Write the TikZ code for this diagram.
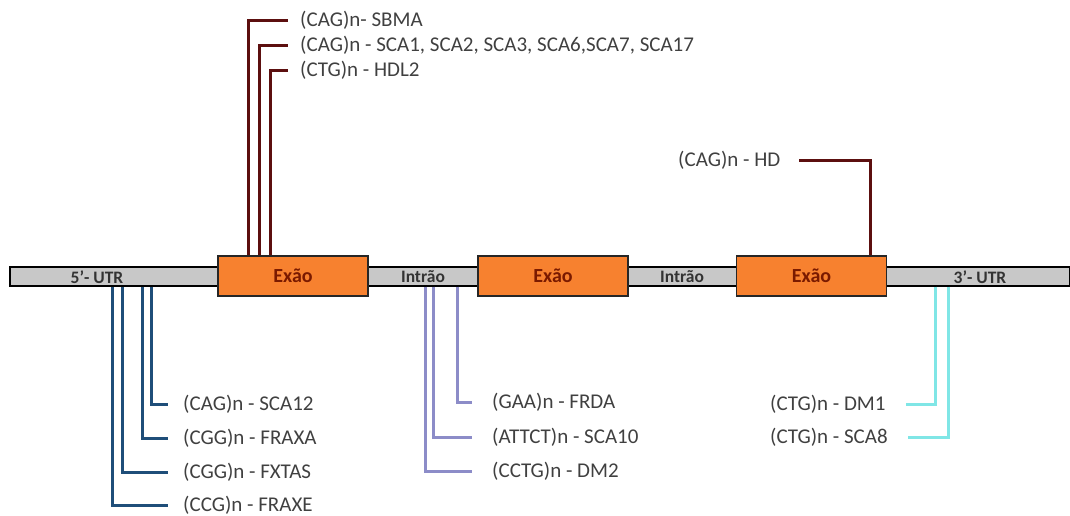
\documentclass[tikz,border=0pt]{standalone}
\usepackage{fontspec}
\setmainfont{Carlito}
\definecolor{exorange}{HTML}{F7812F}
\definecolor{exred}{HTML}{7A1A00}
\definecolor{barg}{HTML}{C8C8C8}
\definecolor{maroon}{HTML}{5C0F0F}
\definecolor{navy}{HTML}{1F4E79}
\definecolor{lav}{HTML}{8C8CC8}
\definecolor{cyanl}{HTML}{80E6E6}
\begin{document}
\begin{tikzpicture}[x=1pt,y=-1pt,
  lbl/.style={inner sep=0pt, anchor=west, text=black!75, font=\fontsize{21}{23}\selectfont},
  barlbl/.style={inner sep=0pt, text=black!80, font=\bfseries\fontsize{17.5}{19}\selectfont},
  exonbox/.style={draw=black!85, fill=exorange, minimum width=150pt, minimum height=40pt, line width=1.2pt, inner sep=0pt, text=exred, font=\bfseries\fontsize{20}{22}\selectfont},
  barbox/.style={draw=black, fill=barg, minimum width=1060pt, minimum height=19pt, line width=1.2pt, inner sep=0pt},
  conn/.style={line width=3pt},
  topc/.style={conn, draw=maroon},
  navyc/.style={conn, draw=navy},
  lavc/.style={conn, draw=lav},
  cyanc/.style={conn, draw=cyanl}]
\useasboundingbox (0,0) rectangle (1070,515);
% bar and exons
\node[barbox] (bar) at (540,276.5) {};
\node[exonbox] (ex1) at (293,276) {Exão};
\node[exonbox] (ex2) at (553,276) {Exão};
\node[exonbox] (ex3) at (811.5,276) {Exão};
\node[barlbl] (utr5) at (97,277) {5'- UTR};
\node[barlbl] (int1) at (423,277) {Intrão};
\node[barlbl] (int2) at (682,277) {Intrão};
\node[barlbl] (utr3) at (980,277) {3'- UTR};
% labels
\node[lbl] (sbma) at (300,20) {(CAG)n- SBMA};
\node[lbl] (sca1) at (300,45) {(CAG)n - SCA1, SCA2, SCA3, SCA6,SCA7, SCA17};
\node[lbl] (hdl2) at (300,70) {(CTG)n - HDL2};
\node[lbl] (hd) at (678,160) {(CAG)n - HD};
\node[lbl] (sca12) at (183,404) {(CAG)n - SCA12};
\node[lbl] (fraxa) at (183,438) {(CGG)n - FRAXA};
\node[lbl] (fxtas) at (183,472) {(CGG)n - FXTAS};
\node[lbl] (fraxe) at (183,505) {(CCG)n - FRAXE};
\node[lbl] (frda) at (492,402) {(GAA)n - FRDA};
\node[lbl] (sca10) at (492,437) {(ATTCT)n - SCA10};
\node[lbl] (dm2) at (492,471) {(CCTG)n - DM2};
\node[lbl] (dm1) at (770,404) {(CTG)n - DM1};
\node[lbl] (sca8) at (770,437) {(CTG)n - SCA8};
% anchor columns
\coordinate (t1) at (248,0);
\coordinate (t2) at (259,0);
\coordinate (t3) at (270,0);
\coordinate (t4) at (870,0);
\coordinate (b1) at (112,0);
\coordinate (b2) at (122,0);
\coordinate (b3) at (142,0);
\coordinate (b4) at (151,0);
\coordinate (m1) at (425,0);
\coordinate (m2) at (433,0);
\coordinate (m3) at (457,0);
\coordinate (c1) at (935,0);
\coordinate (c2) at (948,0);
% connectors
\draw[topc, shorten >=12pt] (ex1.north -| t1) |- (sbma.west);
\draw[topc, shorten >=12pt] (ex1.north -| t2) |- (sca1.west);
\draw[topc, shorten >=12pt] (ex1.north -| t3) |- (hdl2.west);
\draw[topc, shorten >=18pt] (ex3.north -| t4) |- (hd.east);
\draw[navyc, shorten >=15pt] (bar.south -| b4) |- (sca12.west);
\draw[navyc, shorten >=15pt] (bar.south -| b3) |- (fraxa.west);
\draw[navyc, shorten >=15pt] (bar.south -| b2) |- (fxtas.west);
\draw[navyc, shorten >=15pt] (bar.south -| b1) |- (fraxe.west);
\draw[lavc, shorten >=20pt] (bar.south -| m3) |- (frda.west);
\draw[lavc, shorten >=20pt] (bar.south -| m2) |- (sca10.west);
\draw[lavc, shorten >=20pt] (bar.south -| m1) |- (dm2.west);
\draw[cyanc, shorten >=20pt] (bar.south -| c1) |- (dm1.east);
\draw[cyanc, shorten >=20pt] (bar.south -| c2) |- (sca8.east);
\end{tikzpicture}
\end{document}
